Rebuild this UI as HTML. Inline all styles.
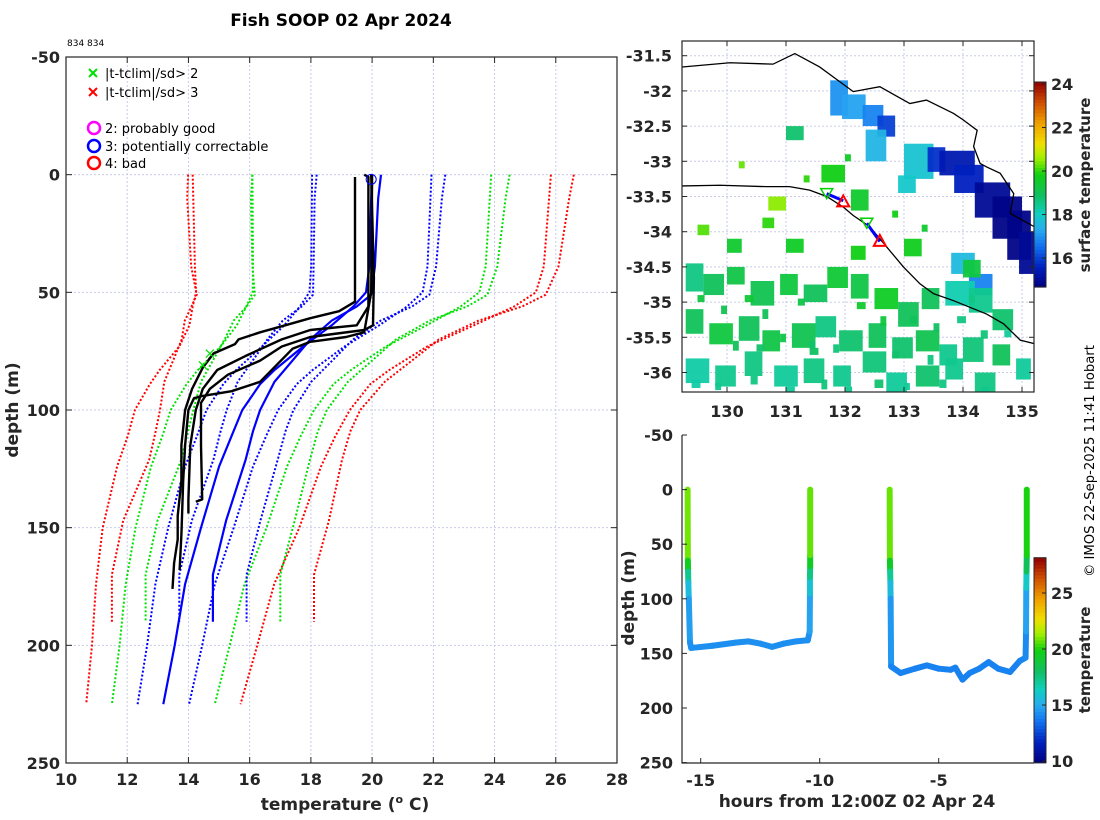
<!DOCTYPE html>
<html><head><meta charset="utf-8"><style>
html,body{margin:0;padding:0;background:#fff;}
svg{display:block;font-family:"DejaVu Sans","Liberation Sans",sans-serif;}
.tk{font-weight:bold;font-size:16px;fill:#262626;}
.ti{font-weight:bold;font-size:17px;fill:#262626;}
.lg{font-size:13px;fill:#000;}
</style></head><body>
<svg id="fig" width="1100" height="820" viewBox="0 0 1100 820" xmlns="http://www.w3.org/2000/svg">
<text x="341" y="26" text-anchor="middle" font-weight="bold" font-size="17">Fish SOOP 02 Apr 2024</text>
<text x="67" y="46" font-size="9">834 834</text>
<g id="left"></g>
<g id="map"></g>
<g id="track"></g>
<text transform="translate(1094,461) rotate(-90)" text-anchor="middle" font-size="13.2">© IMOS 22-Sep-2025 11:41 Hobart</text>
</svg>
<script>
// ---------- Profile plot data ----------
const climDepthA=[0,39,50,56,64,73,83,89,100,111,124,150,174,200,225];
const climMeanA=[19.99,19.91,19.80,19.39,18.68,17.75,16.81,16.34,15.76,15.41,15.0,14.41,13.89,13.55,13.18];
const climSdA=[1.95,1.9,1.85,1.75,1.55,1.35,1.25,1.2,1.17,1.13,1.11,1.07,0.97,0.9,0.84];
const climDepthB=[0,10,39,51,56,62,70,79,88,100,109,121,147,170,190];
const climMeanB=[20.29,20.2,20.09,19.97,19.5,18.68,17.98,17.4,16.81,16.34,16.11,15.87,15.23,14.8,14.8];
const climSdB=[2.1,2.08,2.0,1.9,1.8,1.6,1.4,1.3,1.2,1.09,1.06,1.05,1.12,1.1,1.1];
const castDepth1=[1,54,58,61,64,67,70,72,76,82,91,100,115,130,145,155,165,176];
const castTemp1=[19.44,19.44,18.92,17.98,17.16,16.34,15.64,15.52,14.82,14.47,14.12,13.89,13.77,13.77,13.65,13.65,13.53,13.48];
const castDepth2=[0,1,56,64,66,70,77,83,91,100,115,138,144];
const castTemp2=[19.74,19.88,19.88,19.5,17.98,17.05,15.87,14.94,14.47,14.24,14.06,14.0,14.0];
const castDepth3=[0,44,64,66,69,73,79,85,91,97,115,138,139];
const castTemp3=[19.97,20.06,20.03,19.74,17.98,17.05,16.34,15.29,14.7,14.41,14.41,14.45,14.24];
const castDepth4=[0,50,67,69,71,74,88,92,94,95,100,115,130,153,168];
const castTemp4=[20.0,19.97,19.74,19.15,17.98,17.4,16.34,15.41,14.47,14.18,14.0,13.89,13.83,13.77,13.71];
const flagDepth=[76,81];
const flagTemp=[14.7,14.47];
const xTicks=[10,12,14,16,18,20,22,24,26,28];
const yTicks=[-50,0,50,100,150,200,250];
// ---------- Map data ----------
const coastLon=[129.24,130.05,130.78,131.15,131.57,132.14,132.59,133.1,133.38,133.84,134.0,134.24,134.18,134.29,134.4,134.63,134.86,134.8,135.21];
const coastLat=[-31.66,-31.6,-31.62,-31.47,-31.66,-32.01,-31.94,-32.18,-32.13,-32.32,-32.41,-32.56,-32.79,-33.03,-33.08,-33.17,-33.46,-33.74,-33.93];
const shelfLon=[129.24,129.88,130.67,131.06,131.4,131.69,131.97,132.14,132.42,132.71,132.99,133.27,133.5,133.84,134.4,134.69,134.97,135.21];
const shelfLat=[-33.35,-33.34,-33.36,-33.36,-33.41,-33.5,-33.65,-33.77,-33.93,-34.22,-34.5,-34.74,-34.88,-34.98,-35.17,-35.31,-35.54,-35.59];
const trackLon1=[131.69,131.97], trackLat1=[-33.46,-33.56];
const trackLon2=[132.37,132.59], trackLat2=[-33.88,-34.14];
const startLon=[131.69,132.37], startLat=[-33.46,-33.88];
const endLon=[131.97,132.59], endLat=[-33.57,-34.13];
// SST patches: lon0, lat0(top), width deg, height deg, temp
const sstLon=[131.75,131.95,132.3,132.55,132.35,133.0,133.4,133.6,133.85,134.2,134.5,134.75,134.95,133.8,134.1,132.9,131.0,132.1,131.6,130.7,129.3,129.6,130.0,130.4,130.9,131.3,131.7,132.1,132.5,132.9,133.3,133.7,134.1,134.5,129.3,129.7,130.2,130.6,131.1,131.5,131.9,132.4,132.8,133.2,133.6,134.0,134.5,134.9,129.3,129.8,130.3,130.8,131.3,131.8,132.3,132.7,133.2,133.7,134.2,130.0,131.0,132.1,133.0,134.0,129.5,130.6,
 129.5,129.9,130.3,130.6,131.2,131.4,132.2,132.6,133.1,133.5,133.9,134.3,130.1,130.5,130.9,131.4,131.8,132.8,133.4,134.7,129.4,129.8,130.4,131.0,131.6,132.0,132.5,133.0,133.6,134.3,130.2,131.3,132.0,132.8,133.3,134.1];
const sstLat=[-31.85,-32.05,-32.2,-32.35,-32.55,-32.75,-32.8,-32.85,-33.05,-33.3,-33.5,-33.7,-34.0,-34.3,-34.6,-33.2,-32.5,-33.4,-33.05,-33.5,-34.45,-34.6,-34.5,-34.7,-34.6,-34.75,-34.5,-34.6,-34.8,-35.0,-34.8,-34.7,-34.8,-35.1,-35.1,-35.3,-35.2,-35.4,-35.3,-35.2,-35.4,-35.3,-35.5,-35.4,-35.6,-35.5,-35.6,-35.8,-35.8,-35.9,-35.7,-35.9,-35.8,-35.9,-35.7,-36.0,-35.9,-35.8,-36.0,-34.1,-34.1,-34.2,-34.1,-34.4,-33.9,-33.8,
 -34.9,-35.05,-34.9,-35.1,-34.95,-35.55,-35.0,-35.2,-35.2,-35.3,-35.2,-35.4,-35.55,-35.6,-35.45,-35.65,-35.6,-35.7,-35.75,-35.4,-36.1,-36.15,-36.05,-36.2,-36.1,-36.2,-36.1,-36.15,-36.1,-36.2,-33.0,-33.2,-32.9,-33.7,-33.9,-34.9];
const sstW=[0.3,0.4,0.35,0.3,0.35,0.5,0.3,0.6,0.5,0.6,0.5,0.4,0.3,0.4,0.4,0.3,0.3,0.3,0.4,0.3,0.3,0.35,0.3,0.4,0.3,0.4,0.35,0.3,0.4,0.35,0.3,0.5,0.4,0.35,0.3,0.4,0.35,0.3,0.4,0.35,0.4,0.3,0.35,0.4,0.3,0.35,0.3,0.25,0.4,0.35,0.3,0.4,0.35,0.3,0.4,0.35,0.4,0.3,0.35,0.25,0.3,0.25,0.3,0.3,0.2,0.2,
 0.12,0.1,0.15,0.1,0.12,0.1,0.15,0.1,0.12,0.1,0.15,0.12,0.1,0.12,0.1,0.15,0.1,0.12,0.1,0.12,0.15,0.1,0.12,0.15,0.1,0.12,0.15,0.1,0.12,0.15,0.1,0.1,0.1,0.1,0.1,0.1];
const sstH=[0.5,0.35,0.3,0.3,0.45,0.5,0.35,0.35,0.4,0.5,0.6,0.7,0.6,0.3,0.3,0.25,0.2,0.3,0.25,0.2,0.4,0.3,0.25,0.35,0.3,0.25,0.3,0.35,0.3,0.35,0.3,0.35,0.35,0.3,0.35,0.3,0.35,0.3,0.35,0.3,0.3,0.35,0.3,0.3,0.3,0.35,0.3,0.3,0.35,0.3,0.35,0.3,0.35,0.3,0.3,0.3,0.3,0.3,0.3,0.2,0.2,0.2,0.25,0.25,0.15,0.15,
 0.1,0.12,0.1,0.14,0.1,0.12,0.1,0.14,0.1,0.12,0.1,0.12,0.14,0.1,0.12,0.1,0.12,0.1,0.14,0.1,0.12,0.1,0.12,0.1,0.14,0.1,0.12,0.1,0.12,0.1,0.1,0.1,0.1,0.1,0.1,0.1];
const sstT=[17.0,17.2,16.8,16.0,17.5,17.8,15.8,15.4,15.6,15.0,14.8,14.8,15.0,17.6,16.8,17.9,18.8,19.5,19.8,20.5,18.6,19.0,19.2,19.1,19.3,19.0,19.4,19.2,19.6,19.0,19.0,18.2,18.5,18.8,19.0,19.3,19.0,19.2,19.1,18.6,18.8,19.0,18.8,19.1,18.5,18.7,19.0,18.4,18.3,18.5,18.6,18.4,18.6,18.5,18.7,18.4,18.8,18.5,18.6,19.5,19.6,19.8,19.7,19.3,20.2,20.0,
 19.3,19.1,19.4,19.0,19.2,18.8,19.5,19.3,19.0,18.9,18.6,18.7,19.0,18.8,19.2,18.9,18.7,18.8,18.6,18.4,18.3,18.5,18.6,18.4,18.7,18.5,18.8,18.4,18.6,18.5,20.3,20.0,19.6,19.8,19.5,18.6];
const mapLonTicks=[130,131,132,133,134,135];
const mapLatTicks=[-31.5,-32,-32.5,-33,-33.5,-34,-34.5,-35,-35.5,-36];
const cb1Ticks=[16,18,20,22,24];
// ---------- Track data ----------
const drop1Time=[-15.55,-15.54,-15.53,-15.52,-15.5,-15.45,-15.4,-14.5,-13.5,-13,-12.5,-12,-11.5,-11,-10.5,-10.42,-10.41,-10.41,-10.4,-10.4,-10.4];
const drop1Depth=[0,65,75,85,100,140,145,143,140,139,141,144,141,139,138,130,95,80,70,60,0];
const drop1Temp=[21.0,20.8,18.3,16.3,15.0,14.4,14.3,14.3,14.3,14.3,14.3,14.3,14.3,14.3,14.3,14.4,15.2,16.5,18.5,20.5,21.0];
const drop2Time=[-7.06,-7.05,-7.04,-7.03,-7.02,-7.0,-6.6,-6.0,-5.5,-5.0,-4.5,-4.3,-4.0,-3.7,-3.3,-2.9,-2.5,-2.0,-1.6,-1.35,-1.33,-1.32,-1.31,-1.3,-1.3];
const drop2Depth=[0,65,75,85,100,162,168,164,161,164,165,163,174,168,164,158,164,167,157,154,130,90,75,60,0];
const drop2Temp=[21.0,20.6,18.2,16.2,14.9,14.1,14.0,14.0,14.0,14.0,14.0,14.0,13.9,14.0,14.0,14.0,14.0,14.0,14.0,14.1,14.3,15.3,17.0,19.5,20.5];
const trX=[-15,-10,-5];
const trY=[-50,0,50,100,150,200,250];
const cb2Ticks=[10,15,20,25];

const NS='http://www.w3.org/2000/svg';
function mk(tag,attrs,parent,txt){const e=document.createElementNS(NS,tag);for(const k in attrs)e.setAttribute(k,attrs[k]);if(txt!==undefined)e.textContent=txt;parent.appendChild(e);return e;}
const stops=[[0,[0,0,127]],[0.1,[0,32,192]],[0.2,[16,112,240]],[0.28,[40,170,240]],[0.36,[16,208,192]],[0.45,[16,192,96]],[0.55,[16,208,16]],[0.63,[160,240,0]],[0.7,[240,224,0]],[0.8,[240,160,0]],[0.9,[208,80,0]],[1,[144,0,0]]];
function cmap(v){v=Math.max(0,Math.min(1,v));for(let i=1;i<stops.length;i++){if(v<=stops[i][0]){const a=stops[i-1],b=stops[i];const f=(v-a[0])/(b[0]-a[0]);const c=a[1].map((x,j)=>Math.round(x+(b[1][j]-x)*f));return `rgb(${c[0]},${c[1]},${c[2]})`;}}return 'rgb(144,0,0)';}

// ===== Left profile plot =====
(function(){
const g=document.getElementById('left');
const L=66,R=617,T=57,B=763;
const xs=t=>L+(t-10)/18*(R-L), ys=d=>T+(d+50)/300*(B-T);
xTicks.forEach(t=>{const l=mk('line',{x1:xs(t),x2:xs(t),y1:T,y2:B,stroke:'#c8cbe8','stroke-dasharray':'2,2','stroke-width':1},g);});
yTicks.forEach(d=>{const l=mk('line',{x1:L,x2:R,y1:ys(d),y2:ys(d),stroke:'#c8cbe8','stroke-dasharray':'2,2','stroke-width':1},g);});
const clim=[[climDepthA,climMeanA,climSdA],[climDepthB,climMeanB,climSdB]];
const cols=['#0000ff','#00e000','#ff0000'];
clim.forEach((c,ci)=>{
  [3,2,1].forEach(k=>{[-1,1].forEach(s=>{
    const pts=c[0].map((d,i)=>xs(c[1][i]+s*k*c[2][i]).toFixed(1)+','+ys(d).toFixed(1)).join(' ');
    const p=mk('polyline',{points:pts,fill:'none',stroke:cols[k-1],'stroke-width':2,'stroke-dasharray':'2,2'},g);
    
    
  });});
});
clim.forEach(c=>{
  const pts=c[0].map((d,i)=>xs(c[1][i]).toFixed(1)+','+ys(d).toFixed(1)).join(' ');
  const p=mk('polyline',{points:pts,fill:'none',stroke:'#0000ff','stroke-width':2.2},g);
  
  
});
[[castDepth1,castTemp1],[castDepth2,castTemp2],[castDepth3,castTemp3],[castDepth4,castTemp4]].forEach(c=>{
  const pts=c[0].map((d,i)=>xs(c[1][i]).toFixed(1)+','+ys(d).toFixed(1)).join(' ');
  const p=mk('polyline',{points:pts,fill:'none',stroke:'#000','stroke-width':2.4,'stroke-linejoin':'round'},g);
  
  
});
flagDepth.forEach((d,i)=>{const x=xs(flagTemp[i]),y=ys(d);const m=mk('path',{d:`M${x-4},${y-4}L${x+4},${y+4}M${x-4},${y+4}L${x+4},${y-4}`,stroke:'#00e000','stroke-width':1.2},g);});
const qc=mk('circle',{cx:xs(castTemp3[0]),cy:ys(2),r:5,fill:'none',stroke:'#0000ff','stroke-width':1},g);
const box=mk('rect',{x:L,y:T,width:R-L,height:B-T,fill:'none',stroke:'#262626','stroke-width':1.2},g);
xTicks.forEach(t=>{mk('line',{x1:xs(t),x2:xs(t),y1:B,y2:B-6,stroke:'#262626'},g);mk('line',{x1:xs(t),x2:xs(t),y1:T,y2:T+6,stroke:'#262626'},g);
  const tx=mk('text',{x:xs(t),y:B+22,'text-anchor':'middle',class:'tk'},g,String(t));});
yTicks.forEach(d=>{mk('line',{x1:L,x2:L+6,y1:ys(d),y2:ys(d),stroke:'#262626'},g);mk('line',{x1:R,x2:R-6,y1:ys(d),y2:ys(d),stroke:'#262626'},g);
  const tx=mk('text',{x:L-6,y:ys(d)+6,'text-anchor':'end',class:'tk'},g,String(d));});
const xl=mk('text',{x:345,y:810,'text-anchor':'middle',class:'ti'},g);
xl.innerHTML='temperature (<tspan dy="-7" font-size="11">o</tspan><tspan dy="7"> C)</tspan>';
const yl=mk('text',{transform:'translate(18,410) rotate(-90)','text-anchor':'middle',class:'ti'},g,'depth (m)');
// legend
const lg=mk('g',{},g);
[['#00e000',73,'|t-tclim|/sd> 2'],['#ff0000',92,'|t-tclim|/sd> 3']].forEach(e=>{const y=e[1];
  const m=mk('path',{d:`M${89},${y-4}L${97},${y+4}M${89},${y+4}L${97},${y-4}`,stroke:e[0],'stroke-width':2},lg);
  const t=mk('text',{x:105,y:y+5,class:'lg'},lg,e[2]);});
[['#ff00ff',128,'2: probably good'],['#0000ff',146,'3: potentially correctable'],['#ff0000',163,'4: bad']].forEach(e=>{const y=e[1];
  const m=mk('circle',{cx:94,cy:y,r:6,fill:'none',stroke:e[0],'stroke-width':2.5},lg);
  const t=mk('text',{x:105,y:y+5,class:'lg'},lg,e[2]);});
})();

// ===== Map =====
(function(){
const g=document.getElementById('map');
const L=682,R=1034,T=41,B=392;
const xs=lo=>727+(lo-130)*59, ys=la=>55.7+(-31.5-la)*70.4;
mk('clipPath',{id:'mc'},g).appendChild(document.createElementNS(NS,'rect'));
const cr=g.querySelector('#mc rect');cr.setAttribute('x',L);cr.setAttribute('y',T);cr.setAttribute('width',R-L);cr.setAttribute('height',B-T);
const inner=mk('g',{'clip-path':'url(#mc)'},g);
mapLonTicks.forEach(t=>{const l=mk('line',{x1:xs(t),x2:xs(t),y1:T,y2:B,stroke:'#c8cbe8','stroke-dasharray':'2,2'},inner);});
mapLatTicks.forEach(t=>{const l=mk('line',{x1:L,x2:R,y1:ys(t),y2:ys(t),stroke:'#c8cbe8','stroke-dasharray':'2,2'},inner);});
const cmin=14.67,cmax=24.09;
sstLon.forEach((lo,i)=>{const r=mk('rect',{x:xs(lo),y:ys(sstLat[i]),width:sstW[i]*59,height:sstH[i]*70.4,fill:cmap((sstT[i]-cmin)/(cmax-cmin)),opacity:0.95},inner);});
const cl=mk('polyline',{points:coastLon.map((x,i)=>xs(x)+','+ys(coastLat[i])).join(' '),fill:'none',stroke:'#000','stroke-width':1.3},inner);
const sl=mk('polyline',{points:shelfLon.map((x,i)=>xs(x)+','+ys(shelfLat[i])).join(' '),fill:'none',stroke:'#000','stroke-width':1.3},inner);
[[trackLon1,trackLat1],[trackLon2,trackLat2]].forEach(t=>{const p=mk('polyline',{points:t[0].map((x,i)=>xs(x)+','+ys(t[1][i])).join(' '),fill:'none',stroke:'#0000ff','stroke-width':3},inner);});
startLon.forEach((lo,i)=>{const x=xs(lo),y=ys(startLat[i]);const p=mk('path',{d:`M${x-6},${y-5}L${x+6},${y-5}L${x},${y+5}Z`,fill:'none',stroke:'#00d000','stroke-width':1.5},inner);});
endLon.forEach((lo,i)=>{const x=xs(lo),y=ys(endLat[i]);const p=mk('path',{d:`M${x-6},${y+5}L${x+6},${y+5}L${x},${y-6}Z`,fill:'none',stroke:'#ff0000','stroke-width':2},inner);});
const bx=mk('rect',{x:L,y:T,width:R-L,height:B-T,fill:'none',stroke:'#262626','stroke-width':1.2},g);
mapLonTicks.forEach(t=>{mk('line',{x1:xs(t),x2:xs(t),y1:B,y2:B-5,stroke:'#262626'},g);mk('line',{x1:xs(t),x2:xs(t),y1:T,y2:T+5,stroke:'#262626'},g);
  const tx=mk('text',{x:xs(t),y:417,'text-anchor':'middle',class:'tk'},g,String(t));});
mapLatTicks.forEach(t=>{mk('line',{x1:L,x2:L+5,y1:ys(t),y2:ys(t),stroke:'#262626'},g);mk('line',{x1:R,x2:R-5,y1:ys(t),y2:ys(t),stroke:'#262626'},g);
  const tx=mk('text',{x:672,y:ys(t)+6,'text-anchor':'end',class:'tk'},g,String(t));});
// colorbar
const cb=mk('g',{},g);
const cT=82,cB=287,n=60;
for(let i=0;i<n;i++){const v=(i+0.5)/n;mk('rect',{x:1034,y:cB-(i+1)*(cB-cT)/n,width:12,height:(cB-cT)/n+0.6,fill:cmap(v)},cb);}
mk('rect',{x:1034,y:cT,width:12,height:cB-cT,fill:'none',stroke:'#262626','stroke-width':1},cb);
cb1Ticks.forEach(t=>{const y=cB-(t-cmin)/(cmax-cmin)*(cB-cT);mk('line',{x1:1042,x2:1046,y1:y,y2:y,stroke:'#262626'},cb);
  const tx=mk('text',{x:1051,y:y+6,class:'tk'},cb,String(t));});
const ct=mk('text',{transform:'translate(1090,185) rotate(-90)','text-anchor':'middle',class:'tk',style:'font-size:15px'},g,'surface temperature');
})();

// ===== Track plot =====
(function(){
const g=document.getElementById('track');
const L=682,R=1034,T=435,B=763;
const xs=t=>700.7+(t+15)*23.8, ys=d=>489.6+d*1.092;
const cmin=9.85,cmax=28.15;
[[drop1Time,drop1Depth,drop1Temp],[drop2Time,drop2Depth,drop2Temp]].forEach(d=>{
  for(let i=0;i<d[0].length-1;i++){
    const l=mk('line',{x1:xs(d[0][i]),y1:ys(d[1][i]),x2:xs(d[0][i+1]),y2:ys(d[1][i+1]),stroke:cmap(((d[2][i]+d[2][i+1])/2-cmin)/(cmax-cmin)),'stroke-width':6,'stroke-linecap':'round'},g);
    
    
  }
});
const ax=mk('path',{d:`M${L},${T}V${B}H${R}`,fill:'none',stroke:'#262626','stroke-width':1.2},g);
trX.forEach(t=>{mk('line',{x1:xs(t),x2:xs(t),y1:B,y2:B-5,stroke:'#262626'},g);
  const tx=mk('text',{x:xs(t),y:786,'text-anchor':'middle',class:'tk'},g,String(t));});
trY.forEach(d=>{mk('line',{x1:L,x2:L+5,y1:ys(d),y2:ys(d),stroke:'#262626'},g);
  const tx=mk('text',{x:673,y:ys(d)+6,'text-anchor':'end',class:'tk'},g,String(d));});
const xl=mk('text',{x:857,y:807,'text-anchor':'middle',class:'ti'},g,'hours from 12:00Z 02 Apr 24');
const yl=mk('text',{transform:'translate(634,598) rotate(-90)','text-anchor':'middle',class:'ti'},g,'depth (m)');
const cb=mk('g',{},g);
const cT=557.7,cB=762.7,n=60;
for(let i=0;i<n;i++){const v=(i+0.5)/n;mk('rect',{x:1034,y:cB-(i+1)*(cB-cT)/n,width:12,height:(cB-cT)/n+0.6,fill:cmap(v)},cb);}
mk('rect',{x:1034,y:cT,width:12,height:cB-cT,fill:'none',stroke:'#262626','stroke-width':1},cb);
cb2Ticks.forEach(t=>{const y=cB-(t-cmin)/(cmax-cmin)*(cB-cT);mk('line',{x1:1042,x2:1046,y1:y,y2:y,stroke:'#262626'},cb);
  const tx=mk('text',{x:1051,y:y+6,class:'tk'},cb,String(t));});
const ct=mk('text',{transform:'translate(1090,660) rotate(-90)','text-anchor':'middle',class:'tk',style:'font-size:15px'},g,'temperature');
})();
</script>
</body></html>
